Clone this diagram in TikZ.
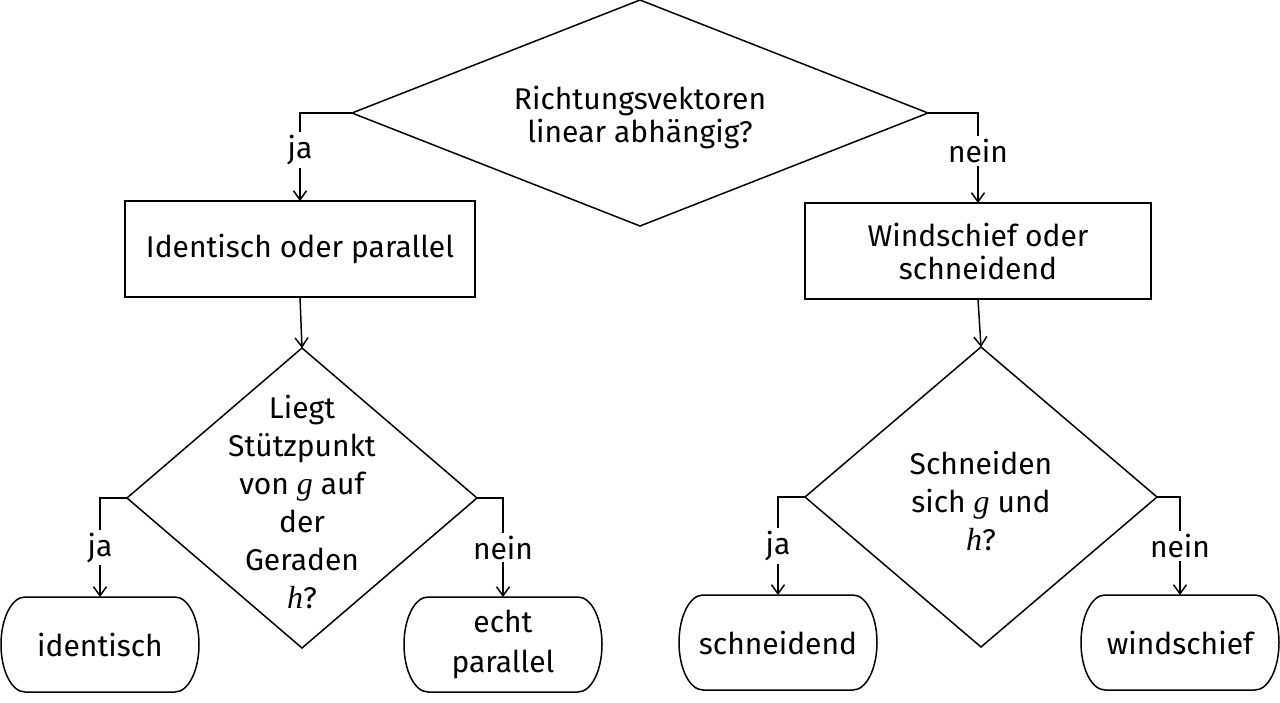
\documentclass[tikz,border=0pt]{standalone}
\usepackage{fontspec}
\setmainfont{Fira Sans}
\newfontfamily\mathvar{Liberation Serif}
\newcommand{\mv}[1]{{\mathvar\itshape\fontsize{32}{38}\selectfont #1}}
\usetikzlibrary{shapes.geometric,arrows.meta}
\begin{document}
\begin{tikzpicture}[x=1pt,y=-1pt,
  every node/.style={font=\fontsize{30}{33}\selectfont},
  lw/.style={line width=1.5pt},
  dia/.style={diamond,draw,lw,inner sep=0pt,outer sep=0pt},
  txt/.style={align=center,inner sep=0pt},
  txtb/.style={align=center,inner sep=0pt,font=\fontsize{30}{38}\selectfont},
  box/.style={rectangle,draw,lw,inner sep=0pt,outer sep=0pt,align=center},
  term/.style={rectangle,inner sep=0pt,outer sep=0pt,minimum width=198pt,minimum height=95pt,align=center},
  arr/.style={lw,-{Straight Barb[length=9pt,width=13pt,line width=1.5pt]}},
  lbl/.style={fill=white,inner sep=3pt}
]
\useasboundingbox (0,0) rectangle (1280,702);

% decisions
\node[dia,minimum width=576pt,minimum height=226pt] (d1) at (640,113) {};
\node[txt] (t1) at (640,117) {Richtungsvektoren\\linear abhängig?};

\node[dia,minimum width=350pt,minimum height=300pt] (d2) at (302,498) {};
\node[txtb] (t2) at (302,502) {Liegt\\Stützpunkt\\von \mv{g} auf\\der\\Geraden\\\mv{h}?};

\node[dia,minimum width=352pt,minimum height=300pt] (d3) at (981,497) {};
\node[txtb] (t3) at (981,501) {Schneiden\\sich \mv{g} und\\\mv{h}?};

% process boxes
\node[box,minimum width=350pt,minimum height=96pt] (b1) at (300,249) {Identisch oder parallel};
\node[box,minimum width=346pt,minimum height=96pt] (b2) at (978,251) {Windschief oder\\schneidend};

% terminals
\node[term] (e1) at (100,644.5) {identisch};
\node[term,font=\fontsize{30}{40}\selectfont] (e2) at (503,644.5) {echt\\parallel};
\node[term] (e3) at (778,642.5) {schneidend};
\node[term] (e4) at (1180,642.5) {windschief};

\foreach \n in {e1,e2,e3,e4}{
  \draw[lw] ([xshift=24pt]\n.north west) -- ([xshift=-24pt]\n.north east)
    arc[start angle=90,end angle=-90,x radius=24pt,y radius=47.5pt]
    -- ([xshift=24pt]\n.south west)
    arc[start angle=270,end angle=90,x radius=24pt,y radius=47.5pt] -- cycle;
}

% connectors
\draw[arr] (d1.west) -| (b1.north) node[lbl,pos=0.71] (l1) {ja};
\draw[arr] (d1.east) -| (b2.north) node[lbl,pos=0.71] (l2) {nein};
\draw[arr] (b1.south) -- (d2.north);
\draw[arr] (b2.south) -- (d3.north);
\draw[arr] (d2.west) -| (e1.north) node[lbl,pos=0.75] (l3) {ja};
\draw[arr] (d2.east) -| (e2.north) node[lbl,pos=0.75] (l4) {nein};
\draw[arr] (d3.west) -| (e3.north) node[lbl,pos=0.75] (l5) {ja};
\draw[arr] (d3.east) -| (e4.north) node[lbl,pos=0.75] (l6) {nein};
\end{tikzpicture}
\end{document}
